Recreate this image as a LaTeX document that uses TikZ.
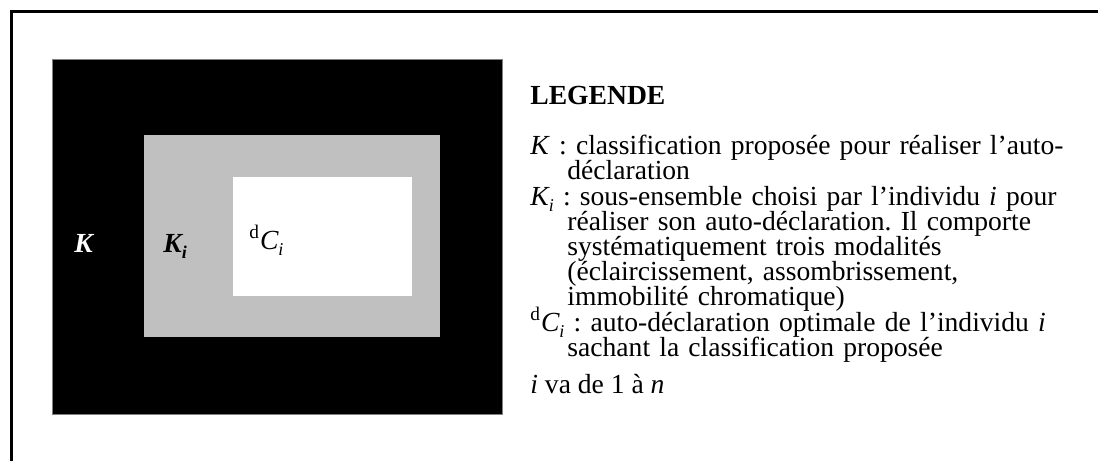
\documentclass[tikz,border=0pt]{standalone}
\usepackage{fontspec}
\setmainfont{Liberation Serif}
\usetikzlibrary{positioning}
\definecolor{setgray}{HTML}{C0C0C0}
\newcommand\legendfont{\fontsize{13.8}{12.5}\selectfont\lineskiplimit=-20pt\frenchspacing\relax}
\newcommand\lowsub[1]{\raisebox{-0.5ex}{\fontsize{9}{9}\selectfont #1}}

\begin{document}
\begin{tikzpicture}[
    x=0.5pt, y=-0.5pt,
    zone/.style={rectangle, anchor=north west, inner sep=0pt, outer sep=0pt},
    lbl/.style={anchor=base west, inner sep=0pt, font=\legendfont},
    entry/.style={lbl, align=left, text width=290pt},
    frame/.style={line width=1.5pt},
]
    \useasboundingbox (0,0) rectangle (1098,461);

    % Frame: only top and left edges
    \coordinate (corner) at (11.5,11.5);
    \coordinate (topend) at (1098,11.5);
    \coordinate (leftend) at (11.5,461);
    \draw[frame] (topend) -- (corner) -- (leftend);

    % Nested sets
    \node[zone, fill=black, draw=gray, line width=0.5pt,
          minimum width=225pt, minimum height=177.5pt] (classif) at (52,59) {};
    \node[zone, fill=setgray, minimum width=148pt, minimum height=101pt] (sousens) at (144,135) {};
    \node[zone, fill=white, minimum width=89.5pt, minimum height=59.5pt] (autodecl) at (233,177) {};

    \node[lbl, text=white] (lblK)  at (74,252)  {\textbf{\textit{K}}};
    \node[lbl]             (lblKi) at (163,252) {\textbf{\textit{K\lowsub{i}}}};
    \node[lbl]             (lblC)  at (249,249) {\textsuperscript{d}\textit{C\lowsub{i}}};

    % Legend
    \node[lbl] (titre) at (530,104) {\textbf{LEGENDE}};
    \node[entry] (defK) at (530,154)
        {\textit{K} : classification proposée pour réaliser l’auto-\\
         \hspace*{18.5pt}déclaration};
    \node[entry] (defKi) at (530,205)
        {\textit{K\lowsub{i}} : sous-ensemble choisi par l’individu \textit{i} pour\\
         \hspace*{18.5pt}réaliser son auto-déclaration. Il comporte\\
         \hspace*{18.5pt}systématiquement trois modalités\\
         \hspace*{18.5pt}(éclaircissement, assombrissement,\\
         \hspace*{18.5pt}immobilité chromatique)};
    \node[entry] (defC) at (530,331)
        {\textsuperscript{d}\textit{C\lowsub{i}} : auto-déclaration optimale de l’individu \textit{i}\\
         \hspace*{18.5pt}sachant la classification proposée};
    \node[lbl] (plage) at (530,393) {\textit{i} va de 1 à \textit{n}};
\end{tikzpicture}
\end{document}
